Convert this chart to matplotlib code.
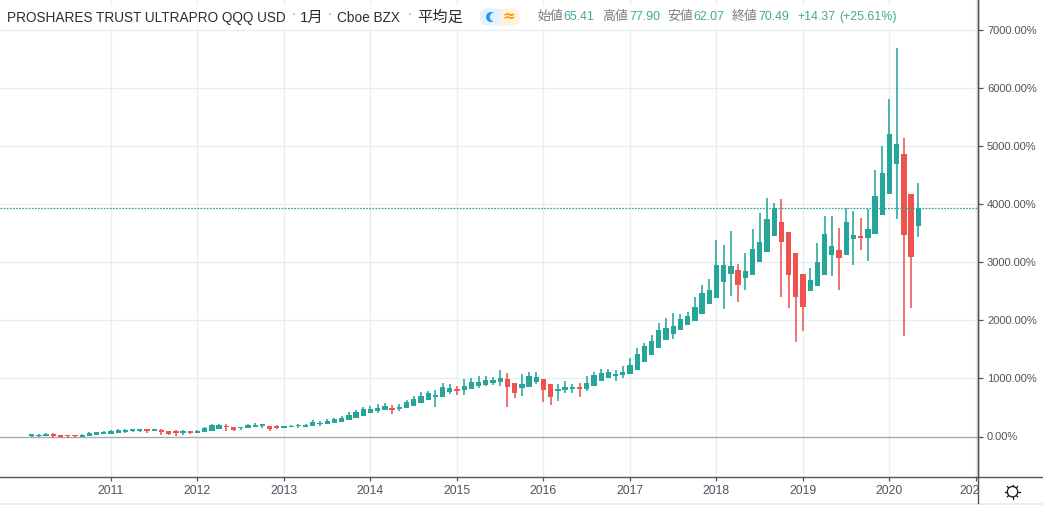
import matplotlib
matplotlib.use("Agg")
import matplotlib.pyplot as plt
from matplotlib.patches import Circle, FancyBboxPatch, Rectangle

plt.rcParams['font.family'] = ['Liberation Sans', 'Noto Sans CJK JP', 'DejaVu Sans']

W, H = 1043, 505
GREEN, RED = '#26a69a', '#ef5350'
GRID = '#e9eef1'
AXIS = '#50535e'

# Monthly Heikin-Ashi candles in percent, February 2010 to May 2020
opens = [
    8, 3, 8, 43, 26, 26, 8, -3, 8, 26, 43,
    43, 60, 77, 100, 100, 106, 100, 112, 89, 71, 60, 77,
    60, 77, 94, 129, 180, 163, 140, 140, 157, 180, 175, 163,
    152, 157, 175, 163, 180, 209, 221, 238, 249, 284, 318, 353,
    404, 439, 456, 479, 473, 490, 525, 577, 628, 686, 680, 766,
    818, 800, 818, 869, 886, 921, 938, 990, 921, 835, 852, 939,
    990, 904, 784, 801, 818, 841, 818, 870, 956, 1007, 1042, 1059,
    1076, 1145, 1283, 1403, 1524, 1662, 1765, 1834, 1920, 1989, 2110, 2282,
    2385, 2661, 2798, 2867, 2729, 2781, 3005, 3177, 3453, 3694, 3522, 3160,
    2798, 2506, 2592, 2781, 3125, 3212, 3125, 3401, 3453, 3418, 3487, 3814,
    4176, 4692, 4865, 4176, 3625,
]
closes = [
    14, 26, 37, 8, -3, 3, 3, 26, 60, 77, 77,
    94, 112, 112, 112, 123, 94, 112, 71, 48, 60, 71, 60,
    94, 146, 192, 192, 157, 117, 157, 192, 203, 186, 123, 152,
    186, 186, 186, 198, 249, 238, 272, 301, 318, 370, 422, 473,
    473, 490, 525, 462, 508, 594, 645, 697, 749, 714, 852, 835,
    783, 869, 938, 938, 973, 973, 1007, 852, 749, 904, 1042, 1025,
    801, 680, 818, 852, 852, 824, 921, 1059, 1094, 1111, 1076, 1111,
    1231, 1421, 1558, 1645, 1834, 1868, 1903, 2023, 2075, 2230, 2471, 2523,
    2953, 2953, 2936, 2609, 2850, 3229, 3349, 3745, 3935, 3349, 2781, 2402,
    2230, 2695, 3005, 3487, 3280, 3074, 3694, 3470, 3418, 3573, 4141, 4537,
    5209, 5037, 3470, 3091, 3935,
]
highs = [
    26, 43, 54, 54, 26, 26, 31, 43, 77, 77, 94,
    112, 129, 135, 135, 135, 135, 129, 129, 89, 106, 112, 94,
    112, 163, 215, 215, 209, 163, 169, 209, 226, 221, 175, 198,
    186, 203, 215, 210, 284, 267, 301, 318, 353, 422, 456, 508,
    525, 559, 577, 542, 559, 628, 697, 766, 783, 800, 921, 904,
    869, 990, 1007, 1041, 1041, 1024, 1145, 1093, 921, 1076, 1111, 1111,
    990, 904, 904, 956, 904, 921, 1042, 1111, 1163, 1163, 1145, 1214,
    1352, 1524, 1610, 1748, 1955, 2041, 2127, 2110, 2144, 2408, 2609, 2712,
    3384, 3298, 3539, 2970, 3160, 3573, 3849, 4107, 4021, 4090, 3522, 3160,
    2798, 2901, 3332, 3797, 3797, 3590, 3935, 3883, 3763, 3918, 4590, 5007,
    5812, 6689, 5140, 4176, 4365,
]
lows = [
    0, -3, 8, -20, -20, -20, -20, -3, 8, 26, 43,
    43, 60, 60, 77, 77, 60, 94, 26, 26, 8, 26, 43,
    60, 77, 94, 129, 94, 94, 112, 140, 157, 140, 94, 129,
    152, 157, 146, 163, 180, 180, 221, 238, 249, 284, 318, 353,
    404, 404, 456, 387, 439, 490, 525, 577, 628, 508, 680, 732,
    714, 714, 818, 835, 869, 886, 869, 514, 663, 697, 852, 904,
    594, 542, 615, 749, 749, 680, 784, 870, 956, 1007, 956, 1007,
    1076, 1145, 1283, 1403, 1524, 1662, 1679, 1834, 1920, 1989, 2110, 2282,
    2385, 2196, 2419, 2316, 2523, 2781, 3005, 3177, 3453, 2402, 2213, 1627,
    1817, 2506, 2592, 2781, 2764, 2523, 3125, 2953, 3212, 3022, 3487, 3814,
    4176, 3745, 1731, 2213, 3435,
]
first_month = -11            # months relative to January 2011
year_labels = ['2011', '2012', '2013', '2014', '2015', '2016', '2017', '2018', '2019', '2020', '202']
price_ticks = [0, 1000, 2000, 3000, 4000, 5000, 6000, 7000]
last_price = 3929

months = [first_month + i for i in range(len(opens))]
year_pos = [12 * i for i in range(len(year_labels))]

fig = plt.figure(figsize=(W / 100, H / 100), dpi=100, facecolor='white')
PX_LEFT, PX_RIGHT, PX_BOTTOM = 0, 978, 476.5
ax = fig.add_axes([0, 1 - PX_BOTTOM / H, PX_RIGHT / W, PX_BOTTOM / H])
month_px = 7.2083
pct_px = 0.05807
ax.set_xlim(-111 / month_px, (PX_RIGHT - 111) / month_px)
ax.set_ylim(-(PX_BOTTOM - 436.5) / pct_px, 436.5 / pct_px)

for x in year_pos:
    ax.axvline(x, color=GRID, lw=1.0, zorder=1)
for y in price_ticks[1:]:
    ax.axhline(y, color=GRID, lw=1.0, zorder=1)
ax.axhline(0, color='#a9acb5', lw=1.0, zorder=1.5)

for m, o, c, h, l in zip(months, opens, closes, highs, lows):
    col = GREEN if c >= o else RED
    ax.vlines(m, l, h, color=col, lw=1.15, zorder=3)
    # very small bodies still occupy about two pixels on screen
    ax.bar(m, max(abs(c - o), 30), bottom=min(o, c), width=5.3 / month_px,
           color=col, linewidth=0, zorder=3)

ax.axhline(last_price, color=GREEN, lw=0.9, ls=(0, (1.4, 1.1)), zorder=4)

# Price scale on the right, time scale below
ax.yaxis.tick_right()
ax.set_yticks(price_ticks)
ax.set_yticklabels([f'{v}.00%' for v in price_ticks])
ax.set_xticks(year_pos)
ax.set_xticklabels([])
ax.tick_params(axis='y', length=3.6, width=0.9, color=AXIS, labelcolor=AXIS, labelsize=8.0, pad=2.9)
ax.tick_params(axis='x', length=3.2, width=0.9, color=AXIS, direction='out')
for name in ('top', 'left'):
    ax.spines[name].set_visible(False)
for name in ('right', 'bottom'):
    ax.spines[name].set_color(AXIS)
    ax.spines[name].set_linewidth(1.0)

# Overlay in pixel units for the header, time labels and icons
ov = fig.add_axes([0, 0, 1, 1], facecolor='none')
ov.set_xlim(0, W)
ov.set_ylim(H, 0)
ov.axis('off')

ov.plot([978, 978], [0, 503], color=AXIS, lw=1.0, zorder=5)
ov.plot([978, W], [476.5, 476.5], color=AXIS, lw=1.0, zorder=5)
ov.add_patch(Rectangle((0, 503), W, 2, color='#ececec', lw=0))

clip = Rectangle((0, 470), 977.5, 35, transform=ov.transData)
for i, lab in enumerate(year_labels):
    t = ov.text(111 + 12 * i * month_px - (6 if lab == '202' else 0), 491.5, lab,
                ha='center', va='center', fontsize=8.7, color=AXIS)
    t.set_clip_path(clip)

# Header band over the chart
ov.add_patch(Rectangle((0, 4), 930, 25, color='white', alpha=0.72, lw=0))
TXT = '#2a2e39'
ov.text(7, 18, 'PROSHARES TRUST ULTRAPRO QQQ USD', fontsize=9.85, color=TXT, va='center')
ov.text(300, 17.5, '1月', fontsize=11, color=TXT, va='center')
ov.text(337, 18, 'Cboe BZX', fontsize=9.85, color=TXT, va='center')
ov.text(417, 17.5, '平均足', fontsize=11, color=TXT, va='center')
for x in (294, 330, 410):
    ov.add_patch(Circle((x, 14), 0.8, color='#9598a1', lw=0))

ov.add_patch(FancyBboxPatch((480, 8.5), 22, 17, boxstyle='round,pad=0,rounding_size=7',
                            color='#e3f2fd', lw=0))
ov.add_patch(FancyBboxPatch((498, 8.5), 22, 17, boxstyle='round,pad=0,rounding_size=7',
                            color='#fff3e0', lw=0))
ov.add_patch(Rectangle((494, 8.5), 6, 17, color='#e3f2fd', lw=0))
ov.add_patch(Rectangle((500, 8.5), 6, 17, color='#fff3e0', lw=0))
ov.add_patch(Circle((491, 17), 5, color='#2196f3', lw=0))
ov.add_patch(Circle((494.2, 17), 4.4, color='#e3f2fd', lw=0))
ov.text(509, 16.5, '≈', fontsize=11, color='#ff9800', ha='center', va='center',
        fontweight='bold', family='DejaVu Sans')

VAL = '#44a69c'
segments = [
    (537, '始値', '#787b86', 9.3), (563, '65.41', VAL, 8.9),
    (602, '高値', '#787b86', 9.3), (629, '77.90', VAL, 8.9),
    (667, '安値', '#787b86', 9.3), (693, '62.07', VAL, 8.9),
    (732, '終値', '#787b86', 9.3), (758, '70.49', VAL, 8.9),
    (797, '+14.37', VAL, 8.9), (839, '(+25.61%)', VAL, 8.9),
]
for x, s, c, fs in segments:
    ov.text(x, 17, s, fontsize=fs, color=c, va='center')

# Settings gear in the corner
gx, gy = 1012.5, 491.7
ov.add_patch(Circle((gx, gy), 5.2, fill=False, ec='#131722', lw=0.9))
for dx, dy in [(0, -7.2), (0, 7.2), (-7.2, 0), (7.2, 0), (-5.1, -5.1), (5.1, -5.1), (-5.1, 5.1), (5.1, 5.1)]:
    ov.plot([gx + dx * 0.8, gx + dx], [gy + dy * 0.8, gy + dy], color='#131722', lw=0.9)

fig.savefig('out.png', dpi=100, facecolor='white')
